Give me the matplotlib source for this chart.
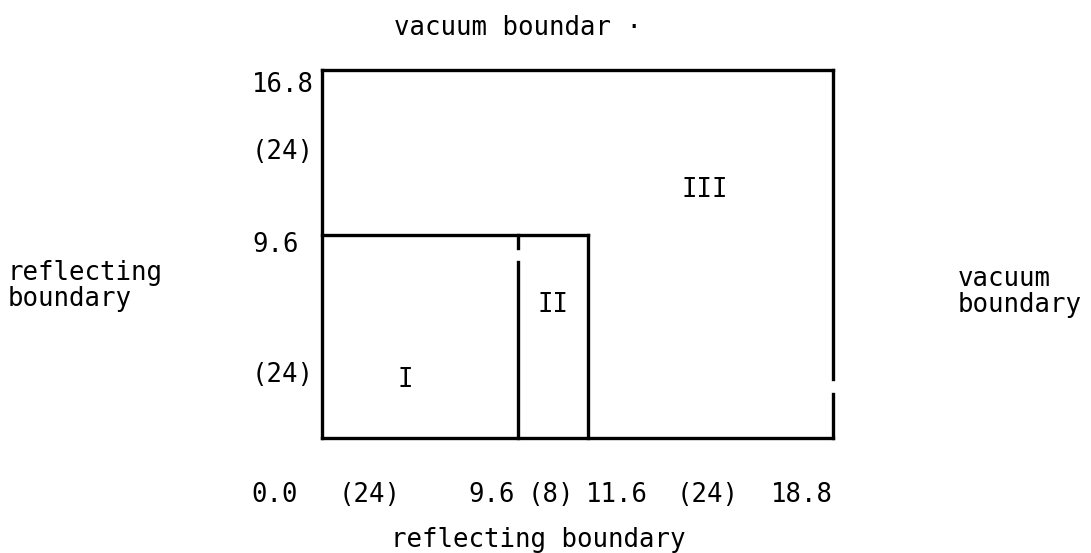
import numpy as np
import matplotlib
matplotlib.use("Agg")
import matplotlib.pyplot as plt

# region boundaries (cm) and mesh counts
x_bounds = [0.0, 9.6, 11.6, 18.8]
y_bounds = [0.0, 9.6, 16.8]
x_mesh = ["(24)", "(8)", "(24)"]
y_mesh = ["(24)", "(24)"]
regions = ["I", "II", "III"]

# scan artefacts
divider_top = 8.3
divider_tick = [9.0, 9.6]
right_gap = [2.1, 2.8]

W, H = 1091, 553


def px(x, y):
    return x / W, 1 - y / H


fig = plt.figure(figsize=(W / 100, H / 100), dpi=100)
ax = fig.add_axes([322 / W, 1 - 438 / H, 511 / W, 368 / H])

# schematic (not to scale) placement of the boundaries
xf = [0.0, 0.3836, 0.5205, 1.0]
yf = [0.0, 0.5516, 1.0]
ax.set_xscale('function', functions=(lambda v: np.interp(v, x_bounds, xf),
                                     lambda v: np.interp(v, xf, x_bounds)))
ax.set_yscale('function', functions=(lambda v: np.interp(v, y_bounds, yf),
                                     lambda v: np.interp(v, yf, y_bounds)))
ax.set_xlim(x_bounds[0], x_bounds[-1])
ax.set_ylim(y_bounds[0], y_bounds[-1])
ax.axis('off')

kw = dict(color='black', lw=2.4, clip_on=False, solid_capstyle='projecting')
x0, x1, x2, x3 = x_bounds
y0, y1, y2 = y_bounds
# outer box
ax.plot([x0, x3], [y2, y2], **kw)
ax.plot([x0, x0], [y0, y2], **kw)
ax.plot([x0, x3], [y0, y0], **kw)
ax.plot([x3, x3], [right_gap[1], y2], **kw)
ax.plot([x3, x3], [y0, right_gap[0]], **kw)
# inner regions
ax.plot([x0, x2], [y1, y1], **kw)
ax.plot([x2, x2], [y0, y1], **kw)
ax.plot([x1, x1], [y0, divider_top], **kw)
ax.plot([x1, x1], divider_tick, **kw)

font = dict(family='DejaVu Sans Mono', fontsize=18.5, color='black')

fig.text(*px(518, 28), "vacuum boundar \u00b7", ha='center', va='center', **font)
fig.text(*px(538, 540), "reflecting boundary", ha='center', va='center', **font)
fig.text(*px(8, 286), "reflecting\nboundary", ha='left', va='center',
         linespacing=1.05, **font)
fig.text(*px(958, 292), "vacuum\nboundary", ha='left', va='center',
         linespacing=1.05, **font)

# left labels
fig.text(*px(252, 85), f"{y_bounds[2]:.1f}", ha='left', va='center', **font)
fig.text(*px(252, 152), y_mesh[1], ha='left', va='center', **font)
fig.text(*px(252, 245), f"{y_bounds[1]:.1f}", ha='left', va='center', **font)
fig.text(*px(252, 375), y_mesh[0], ha='left', va='center', **font)

# bottom labels
bottom = [(275, f"{x_bounds[0]:.1f}"), (370, x_mesh[0]), (492, f"{x_bounds[1]:.1f}"),
          (551, x_mesh[1]), (617, f"{x_bounds[2]:.1f}"), (708, x_mesh[2]),
          (802, f"{x_bounds[3]:.1f}")]
for xp, s in bottom:
    fig.text(*px(xp, 495), s, ha='center', va='center', **font)

# region names
fig.text(*px(405, 380), regions[0], ha='center', va='center', **font)
fig.text(*px(553, 305), regions[1], ha='center', va='center', **font)
fig.text(*px(705, 190), regions[2], ha='center', va='center', **font)

fig.savefig("out.png", dpi=100)
